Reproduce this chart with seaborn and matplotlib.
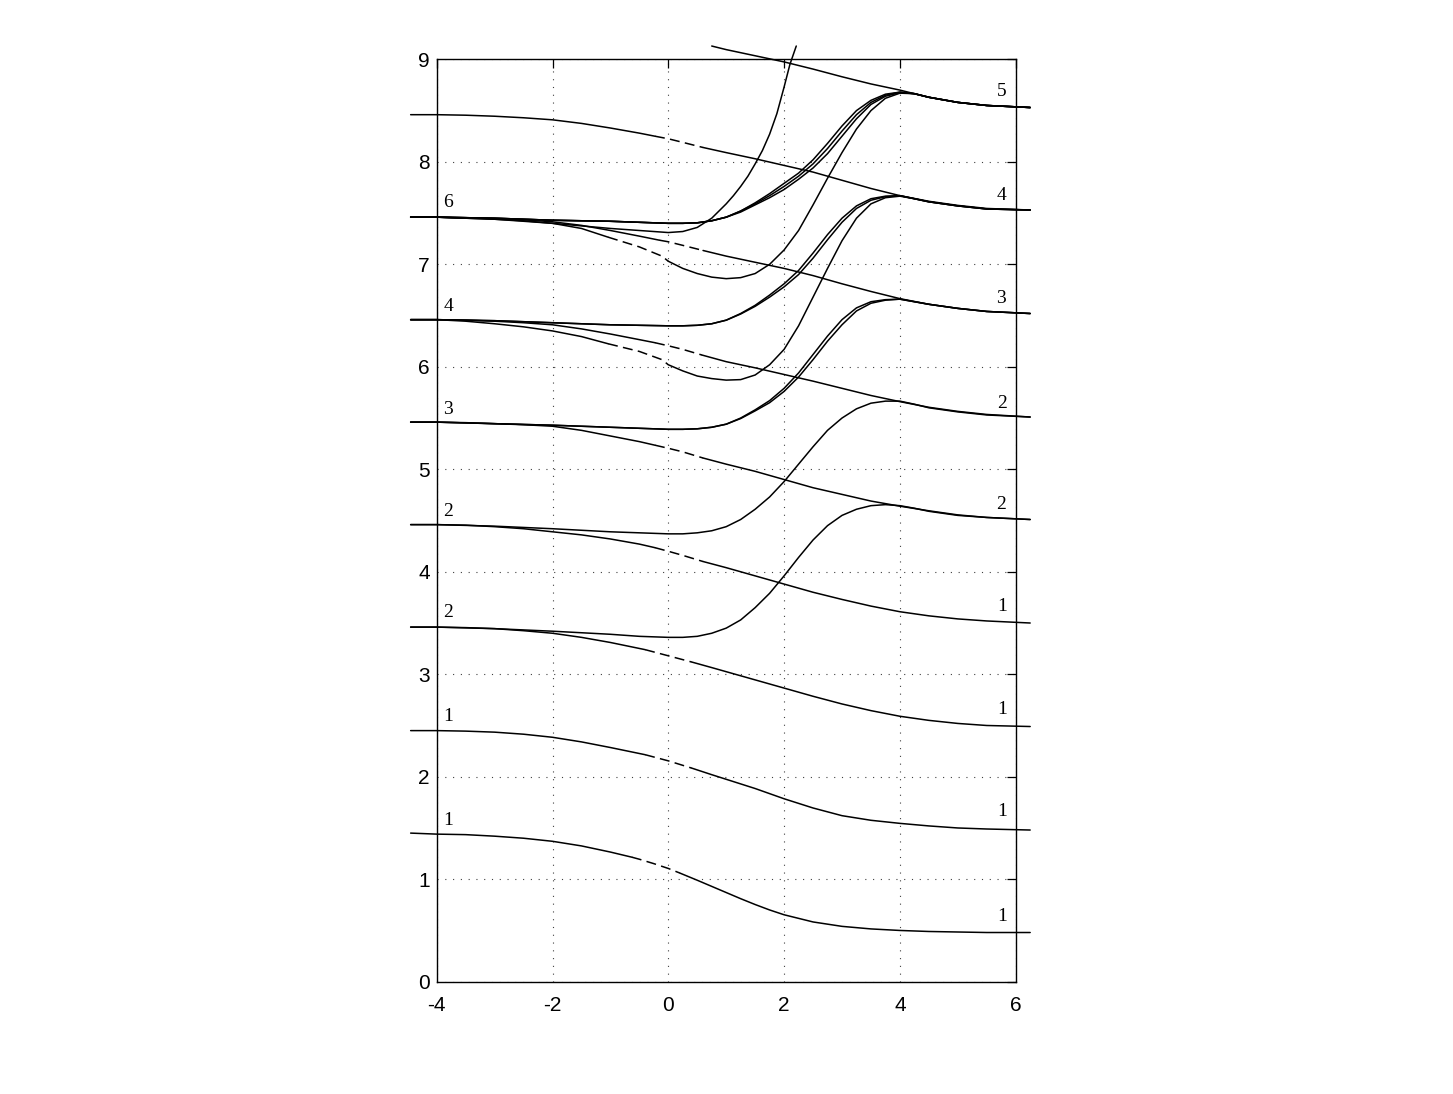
import matplotlib
matplotlib.use("Agg")
import matplotlib.pyplot as plt
import pandas as pd
import seaborn as sns

# ---------------- data ----------------
# descending curves (left level k+0.45 -> right level k-0.5), dashed middle part
A1_X = [-4.45, -4, -3.5, -3, -2.5, -2, -1.5, -1, -0.63, -0.5, -0.25, 0, 0.2, 0.5, 0.75, 1, 1.25, 1.5, 1.75, 2, 2.5, 3, 3.5, 4, 4.5, 5, 5.5, 6.25]
A1_Y = [1.45, 1.44, 1.435, 1.42, 1.40, 1.37, 1.325, 1.265, 1.215, 1.195, 1.152, 1.105, 1.06, 0.99, 0.93, 0.87, 0.81, 0.753, 0.70, 0.653, 0.583, 0.54, 0.515, 0.50, 0.49, 0.485, 0.48, 0.48]

A2_X = [-4.45, -4, -3.5, -3, -2.5, -2, -1.5, -1, -0.4, 0, 0.4, 0.75, 1, 1.5, 2, 2.5, 3, 3.5, 4, 4.5, 5, 5.5, 6.25]
A2_Y = [2.45, 2.45, 2.445, 2.435, 2.415, 2.385, 2.34, 2.285, 2.215, 2.155, 2.085, 2.02, 1.975, 1.885, 1.785, 1.695, 1.62, 1.575, 1.545, 1.52, 1.50, 1.49, 1.48]

A3_X = [-4.45, -4, -3.5, -3, -2.5, -2, -1.5, -1, -0.4, 0, 0.4, 0.75, 1, 1.5, 2, 2.5, 3, 3.5, 4, 4.5, 5, 5.5, 6.25]
A3_Y = [3.46, 3.46, 3.455, 3.445, 3.425, 3.40, 3.36, 3.31, 3.24, 3.18, 3.12, 3.065, 3.025, 2.945, 2.865, 2.785, 2.71, 2.645, 2.59, 2.55, 2.52, 2.50, 2.49]

A4_X = [-4.45, -4, -3.5, -3, -2.5, -2, -1.5, -1, -0.5, -0.23, 0, 0.25, 0.6, 1, 1.5, 2, 2.5, 3, 3.5, 4, 4.5, 5, 5.5, 6.25]
A4_Y = [4.46, 4.46, 4.455, 4.44, 4.42, 4.39, 4.36, 4.32, 4.27, 4.235, 4.20, 4.16, 4.10, 4.04, 3.96, 3.88, 3.80, 3.73, 3.665, 3.61, 3.57, 3.54, 3.52, 3.50]

A5_X = [-4.45, -4, -3.5, -3, -2.5, -2, -1.5, -1, -0.5, -0.23, 0, 0.25, 0.6, 1, 1.5, 2, 2.5, 3, 3.5, 4, 4.5, 5, 5.5, 6.25]
A5_Y = [5.46, 5.46, 5.455, 5.445, 5.435, 5.42, 5.38, 5.325, 5.27, 5.235, 5.205, 5.17, 5.11, 5.05, 4.98, 4.90, 4.82, 4.755, 4.69, 4.64, 4.595, 4.555, 4.53, 4.51]

A6_X = [-4.45, -4, -3.5, -3, -2.5, -2, -1.5, -1, -0.5, -0.23, 0, 0.25, 0.58, 1, 1.5, 2, 2.5, 3, 3.5, 4, 4.5, 5, 5.5, 6.25]
A6_Y = [6.46, 6.46, 6.455, 6.445, 6.43, 6.41, 6.37, 6.32, 6.265, 6.235, 6.205, 6.17, 6.115, 6.05, 5.99, 5.925, 5.86, 5.79, 5.72, 5.66, 5.605, 5.565, 5.535, 5.51]

A7_X = [-4.45, -4, -3.5, -3, -2.5, -2, -1.5, -1, -0.5, -0.15, 0, 0.25, 0.6, 1, 1.5, 2, 2.5, 3, 3.5, 4, 4.5, 5, 5.5, 6.25]
A7_Y = [7.46, 7.46, 7.455, 7.445, 7.435, 7.415, 7.38, 7.33, 7.275, 7.235, 7.22, 7.185, 7.135, 7.08, 7.02, 6.96, 6.89, 6.81, 6.735, 6.665, 6.61, 6.57, 6.54, 6.52]

A8_X = [-4.45, -4, -3.5, -3, -2.5, -2, -1.5, -1, -0.5, -0.23, 0, 0.25, 0.6, 1, 1.5, 2, 2.5, 3, 3.5, 4, 4.5, 5, 5.5, 6.25]
A8_Y = [8.46, 8.46, 8.455, 8.445, 8.43, 8.41, 8.375, 8.33, 8.28, 8.25, 8.225, 8.19, 8.14, 8.09, 8.03, 7.965, 7.90, 7.82, 7.74, 7.67, 7.615, 7.575, 7.545, 7.53]

A9_X = [0.75, 1, 1.5, 2, 2.5, 3, 3.5, 4, 4.5, 5, 5.5, 6.25]
A9_Y = [9.13, 9.095, 9.035, 8.975, 8.905, 8.83, 8.76, 8.70, 8.63, 8.58, 8.55, 8.53]

# flat-dip-then-rise curves joining the next level on the right
B_X = [-4.45, -4, -3, -2, -1, -0.5, 0, 0.25, 0.5, 0.75, 1.0, 1.25, 1.5, 1.75, 2.0, 2.25, 2.5, 2.75, 3.0, 3.25, 3.5, 3.75, 4.0, 4.25, 4.5, 5, 5.5, 6.25]
B3_Y = [3.46, 3.46, 3.445, 3.42, 3.39, 3.37, 3.36, 3.36, 3.37, 3.40, 3.45, 3.53, 3.65, 3.79, 3.96, 4.14, 4.31, 4.45, 4.55, 4.61, 4.645, 4.655, 4.645, 4.62, 4.59, 4.55, 4.53, 4.51]
B4_Y = [4.46, 4.46, 4.445, 4.42, 4.39, 4.38, 4.37, 4.37, 4.38, 4.40, 4.44, 4.51, 4.61, 4.73, 4.88, 5.05, 5.22, 5.38, 5.50, 5.59, 5.645, 5.665, 5.665, 5.635, 5.60, 5.56, 5.53, 5.51]
B5A_Y = [5.46, 5.46, 5.445, 5.43, 5.41, 5.40, 5.39, 5.39, 5.395, 5.41, 5.44, 5.50, 5.58, 5.67, 5.79, 5.94, 6.12, 6.30, 6.46, 6.575, 6.635, 6.655, 6.66, 6.635, 6.61, 6.57, 6.54, 6.52]
B5B_Y = [5.46, 5.46, 5.445, 5.43, 5.41, 5.40, 5.39, 5.39, 5.395, 5.41, 5.44, 5.495, 5.57, 5.65, 5.76, 5.90, 6.07, 6.25, 6.41, 6.545, 6.62, 6.65, 6.66, 6.635, 6.61, 6.57, 6.54, 6.52]
B6A_Y = [6.46, 6.46, 6.45, 6.43, 6.41, 6.405, 6.40, 6.40, 6.405, 6.42, 6.455, 6.52, 6.60, 6.70, 6.81, 6.94, 7.11, 7.29, 7.45, 7.57, 7.64, 7.665, 7.67, 7.64, 7.61, 7.57, 7.54, 7.53]
B6B_Y = [6.46, 6.46, 6.45, 6.43, 6.41, 6.405, 6.40, 6.40, 6.405, 6.42, 6.455, 6.515, 6.59, 6.68, 6.78, 6.90, 7.06, 7.24, 7.41, 7.545, 7.625, 7.66, 7.67, 7.64, 7.61, 7.57, 7.54, 7.53]
B7A_Y = [7.46, 7.46, 7.45, 7.43, 7.42, 7.41, 7.40, 7.40, 7.405, 7.425, 7.46, 7.52, 7.60, 7.69, 7.79, 7.89, 8.02, 8.18, 8.35, 8.50, 8.60, 8.66, 8.68, 8.665, 8.63, 8.58, 8.55, 8.53]
B7B_Y = [7.46, 7.46, 7.45, 7.43, 7.42, 7.41, 7.40, 7.40, 7.405, 7.425, 7.46, 7.52, 7.59, 7.67, 7.76, 7.86, 7.98, 8.13, 8.30, 8.46, 8.58, 8.65, 8.68, 8.665, 8.63, 8.58, 8.55, 8.53]
B7C_Y = [7.46, 7.46, 7.45, 7.43, 7.42, 7.41, 7.40, 7.40, 7.405, 7.425, 7.46, 7.51, 7.58, 7.65, 7.73, 7.83, 7.94, 8.08, 8.25, 8.42, 8.56, 8.64, 8.675, 8.665, 8.63, 8.58, 8.55, 8.53]

# curves that drop (dashed part), dip below and climb steeply
C_X = [-4.45, -4, -3.5, -3, -2.5, -2, -1.5, -1.04, -0.5, -0.11, 0, 0.25, 0.5, 0.75, 1.0, 1.25, 1.5, 1.75, 2.0, 2.25, 2.5, 2.75, 3.0, 3.25, 3.5, 3.75, 4.0, 4.25, 4.5, 5, 5.5, 6.25]
C6_Y = [6.46, 6.46, 6.445, 6.42, 6.39, 6.35, 6.295, 6.225, 6.15, 6.07, 6.02, 5.96, 5.91, 5.885, 5.87, 5.875, 5.92, 6.02, 6.17, 6.40, 6.68, 6.96, 7.23, 7.45, 7.59, 7.65, 7.665, 7.64, 7.61, 7.57, 7.54, 7.53]
C7_Y = [7.46, 7.46, 7.45, 7.44, 7.425, 7.40, 7.35, 7.265, 7.17, 7.08, 7.03, 6.96, 6.91, 6.875, 6.86, 6.87, 6.91, 7.00, 7.14, 7.33, 7.58, 7.84, 8.09, 8.32, 8.50, 8.62, 8.67, 8.665, 8.63, 8.58, 8.55, 8.53]

# very steep curve leaving through the top
D_X = [-4.45, -4, -3, -2, -1, -0.5, 0, 0.25, 0.5, 0.75, 1, 1.125, 1.25, 1.375, 1.5, 1.625, 1.75, 1.875, 2, 2.1, 2.21]
D_Y = [7.46, 7.46, 7.44, 7.40, 7.35, 7.33, 7.31, 7.32, 7.36, 7.45, 7.59, 7.67, 7.76, 7.86, 7.98, 8.11, 8.27, 8.47, 8.73, 8.95, 9.13]

# level labels
LEFT_LABELS = ["1", "1", "2", "2", "3", "4", "6"]
RIGHT_LABELS = ["1", "1", "1", "1", "2", "2", "3", "4", "5"]
X_TICKS = [-4, -2, 0, 2, 4, 6]
Y_TICKS = [0, 1, 2, 3, 4, 5, 6, 7, 8, 9]

# ---------------- layout / style (not data) ----------------
LEFT_LABEL_POS = [(-3.80, 1.575), (-3.80, 2.59), (-3.80, 3.60), (-3.80, 4.585),
                  (-3.80, 5.58), (-3.80, 6.59), (-3.80, 7.60)]
RIGHT_LABEL_POS = [(5.76, 0.635), (5.76, 1.66), (5.76, 2.66), (5.76, 3.66), (5.75, 4.66),
                   (5.76, 5.645), (5.75, 6.665), (5.76, 7.67), (5.75, 8.69)]

curves = [
    (A1_X, A1_Y, (-0.63, 0.2)),
    (A2_X, A2_Y, (-0.4, 0.4)),
    (A3_X, A3_Y, (-0.4, 0.4)),
    (A4_X, A4_Y, (-0.23, 0.6)),
    (A5_X, A5_Y, (-0.23, 0.6)),
    (A6_X, A6_Y, (-0.23, 0.58)),
    (A7_X, A7_Y, (-0.15, 0.6)),
    (A8_X, A8_Y, (-0.23, 0.6)),
    (A9_X, A9_Y, None),
    (B_X, B3_Y, None),
    (B_X, B4_Y, None),
    (B_X, B5A_Y, None),
    (B_X, B5B_Y, None),
    (B_X, B6A_Y, None),
    (B_X, B6B_Y, None),
    (B_X, B7A_Y, None),
    (B_X, B7B_Y, None),
    (B_X, B7C_Y, None),
    (C_X, C6_Y, (-1.04, 0.0)),
    (C_X, C7_Y, (-1.04, 0.0)),
    (D_X, D_Y, None),
]

solid_rows, dash_rows = [], []
uid = 0
for xs, ys, dr in curves:
    pts = list(zip(xs, ys))
    if dr is None:
        pieces = [(pts, False)]
    else:
        d0, d1 = dr
        pieces = [([p for p in pts if p[0] <= d0], False),
                  ([p for p in pts if d0 <= p[0] <= d1], True),
                  ([p for p in pts if p[0] >= d1], False)]
    for seg, dashed in pieces:
        if len(seg) < 2:
            continue
        uid += 1
        target = dash_rows if dashed else solid_rows
        for x, y in seg:
            target.append({"x": x, "y": y, "unit": uid})

solid_df = pd.DataFrame(solid_rows)
dash_df = pd.DataFrame(dash_rows)

sns.set_style("white")
plt.rcParams["font.family"] = ["Liberation Sans", "DejaVu Sans"]
plt.rcParams["text.color"] = "black"
plt.rcParams["xtick.labelcolor"] = "black"
plt.rcParams["ytick.labelcolor"] = "black"

fig = plt.figure(figsize=(14.53, 10.94), dpi=100)
ax = fig.add_axes([0.30055, 0.10265, 0.39849, 0.8431])

sns.lineplot(data=solid_df, x="x", y="y", units="unit", estimator=None, sort=False,
             color="black", linewidth=1.1, ax=ax)
sns.lineplot(data=dash_df, x="x", y="y", units="unit", estimator=None, sort=False,
             color="black", linewidth=1.1, linestyle=(0, (6.5, 3.5)), ax=ax)
for ln in ax.lines:
    ln.set_clip_on(False)
    ln.set_solid_joinstyle("round")

ax.set_xlim(-4, 6)
ax.set_ylim(0, 9)
ax.set_xticks(X_TICKS)
ax.set_yticks(Y_TICKS)
ax.set_xticklabels([str(t) for t in X_TICKS])
ax.set_yticklabels([str(t) for t in Y_TICKS])
ax.set_xlabel("")
ax.set_ylabel("")
ax.set_axisbelow(True)
ax.grid(True, linestyle=(0, (1, 6)), color="0.25", linewidth=0.8)
ax.tick_params(axis="both", direction="in", top=True, right=True, length=6.5,
               width=0.9, labelsize=15, color="black", labelcolor="black")
ax.tick_params(axis="x", pad=10)
ax.tick_params(axis="y", pad=5)
for sp in ax.spines.values():
    sp.set_visible(True)
    sp.set_linewidth(1.0)
    sp.set_color("black")

for (x, y), s in zip(LEFT_LABEL_POS, LEFT_LABELS):
    ax.text(x, y, s, ha="center", va="center", fontsize=14, color="black",
            family=["Liberation Serif", "DejaVu Serif"], clip_on=False)
for (x, y), s in zip(RIGHT_LABEL_POS, RIGHT_LABELS):
    ax.text(x, y, s, ha="center", va="center", fontsize=14, color="black",
            family=["Liberation Serif", "DejaVu Serif"], clip_on=False)

fig.savefig("out.png", dpi=100, facecolor="white")
